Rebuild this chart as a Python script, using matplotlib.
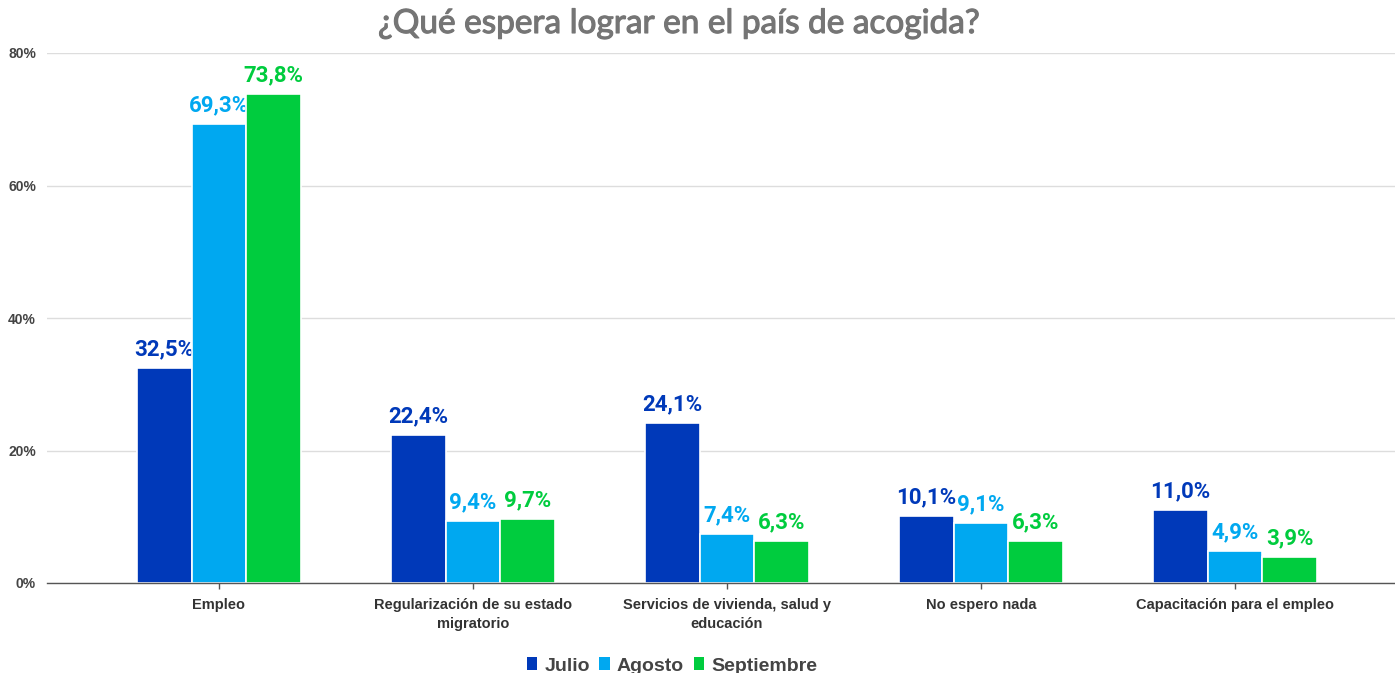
import matplotlib
matplotlib.use("Agg")
import matplotlib.pyplot as plt
import matplotlib.patheffects as pe
import numpy as np
from matplotlib.patches import Patch

categories = ["Empleo", "Regularización de su estado\nmigratorio",
              "Servicios de vivienda, salud y\neducación", "No espero nada",
              "Capacitación para el empleo"]
series_names = ["Julio", "Agosto", "Septiembre"]
julio = [32.5, 22.4, 24.1, 10.1, 11.0]
agosto = [69.3, 9.4, 7.4, 9.1, 4.9]
septiembre = [73.8, 9.7, 6.3, 6.3, 3.9]
yticks = [0, 20, 40, 60, 80]

colors = ["#0039b9", "#00a8f0", "#00cc3e"]
series = [julio, agosto, septiembre]

fig = plt.figure(figsize=(13.95, 6.73), dpi=100)
ax = fig.add_axes([47/1395, 90/673, (1395-47)/1395, 530/673])

x = np.arange(len(categories))
bw = 0.216
for i, (vals, c, name) in enumerate(zip(series, colors, series_names)):
    pos = x + (i - 1) * bw
    ax.bar(pos, vals, width=bw, color=c, edgecolor="white", linewidth=1.2, zorder=3)
    for p, v in zip(pos, vals):
        ax.annotate(f"{v:.1f}%".replace(".", ","), (p, v), xytext=(0, 9),
                    textcoords="offset points", ha="center", va="baseline",
                    fontsize=16, fontweight="bold", color=c, family="Roboto")

ax.set_xlim(-0.677, 4.63)
ax.set_ylim(0, 80)
ax.set_yticks(yticks)
ax.set_yticklabels([f"{t}%" for t in yticks], fontsize=10, fontweight="bold",
                   color="#444444", family="Liberation Sans")
ax.set_xticks(x)
ax.set_xticklabels(categories, fontsize=10.5, fontweight="bold", color="#333333",
                   family="Liberation Sans", linespacing=1.45)
ax.tick_params(axis="y", length=0, pad=8)
ax.tick_params(axis="x", length=4, width=1, color="#555555", direction="out", pad=7)
ax.grid(axis="y", color="#dddddd", linewidth=1, zorder=0)
for s in ["top", "right", "left"]:
    ax.spines[s].set_visible(False)
ax.spines["bottom"].set_color("#555555")
ax.spines["bottom"].set_linewidth(1)
ax.spines["bottom"].set_zorder(4)

fig.text(679/1395, 1 - 24/673, "¿Qué espera lograr en el país de acogida?",
         ha="center", va="center", fontsize=24, color="#757575",
         family="Lato", fontweight="normal",
         path_effects=[pe.withStroke(linewidth=0.8, foreground="#757575")])

handles = [Patch(facecolor=c, edgecolor="none") for c in colors]
fig.legend(handles, series_names, loc="center", bbox_to_anchor=(672/1395, 7/673),
           ncol=3, frameon=False, handlelength=0.55, handleheight=0.6,
           handletextpad=0.35, columnspacing=0.5,
           prop={"family": "Liberation Sans", "weight": "bold", "size": 14})
for t in fig.legends[0].get_texts():
    t.set_color("#444444")

fig.savefig("out.png", dpi=100)
